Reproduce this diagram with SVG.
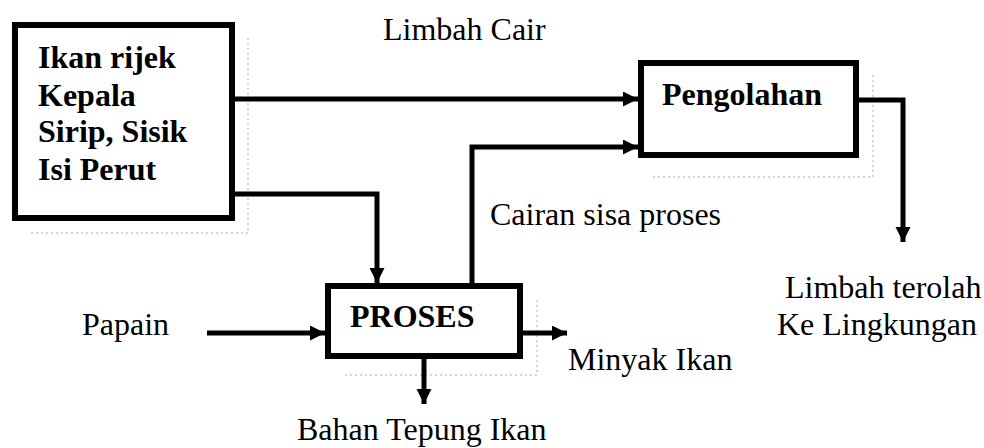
<svg xmlns="http://www.w3.org/2000/svg" width="984" height="448" viewBox="0 0 984 448">
<style>
.box{fill:#fff;stroke:#000;stroke-width:6}
.shadow{fill:none;stroke:#aaa;stroke-width:1;stroke-dasharray:2 3}
.bold{font-family:"Liberation Serif","Times New Roman",serif;font-weight:bold;font-size:32px;fill:#000}
.lbl{font-family:"Liberation Serif","Times New Roman",serif;font-size:32px;fill:#000}
.conn{fill:none;stroke:#000;stroke-width:5;stroke-linejoin:miter}
</style>
<defs>
<marker id="arr" markerUnits="userSpaceOnUse" markerWidth="16" markerHeight="16" refX="15" refY="7.5" orient="auto" viewBox="0 0 16 16">
<path d="M0,0 L15,7.5 L0,15 z" fill="#000"/>
</marker>
</defs>
<g id="shadows">
<path class="shadow" d="M248,38 V233 H28"/>
<path class="shadow" d="M873,75 V177 H653"/>
<path class="shadow" d="M537,300 V375 H342"/>
</g>
<g id="connectors">
<path class="conn" d="M235,99 H638" marker-end="url(#arr)"/>
<path class="conn" d="M235,194 H377 V283" marker-end="url(#arr)"/>
<path class="conn" d="M472,283 V147 H638" marker-end="url(#arr)"/>
<path class="conn" d="M207,333 H325" marker-end="url(#arr)"/>
<path class="conn" d="M523,333 H567" marker-end="url(#arr)"/>
<path class="conn" d="M424,359 V404" marker-end="url(#arr)"/>
<path class="conn" d="M859,100 H903 V242" marker-end="url(#arr)"/>
</g>
<g id="ikan-rijek">
<rect class="box" x="15" y="25" width="217" height="193"/>
<text class="bold" x="38" y="68">Ikan rijek</text>
<text class="bold" x="38" y="106">Kepala</text>
<text class="bold" x="38" y="142">Sirip, Sisik</text>
<text class="bold" x="38" y="180">Isi Perut</text>
</g>
<g id="pengolahan">
<rect class="box" x="641" y="63" width="215" height="92"/>
<text class="bold" x="662" y="105">Pengolahan</text>
</g>
<g id="proses">
<rect class="box" x="328" y="286" width="192" height="70"/>
<text class="bold" x="350" y="327">PROSES</text>
</g>
<g id="labels">
<text class="lbl" x="383" y="40">Limbah Cair</text>
<text class="lbl" x="490" y="225">Cairan sisa proses</text>
<text class="lbl" x="785" y="298">Limbah terolah</text>
<text class="lbl" x="777" y="335">Ke Lingkungan</text>
<text class="lbl" x="568" y="370">Minyak Ikan</text>
<text class="lbl" x="82" y="335">Papain</text>
<text class="lbl" x="297" y="440">Bahan Tepung Ikan</text>
</g>
</svg>
